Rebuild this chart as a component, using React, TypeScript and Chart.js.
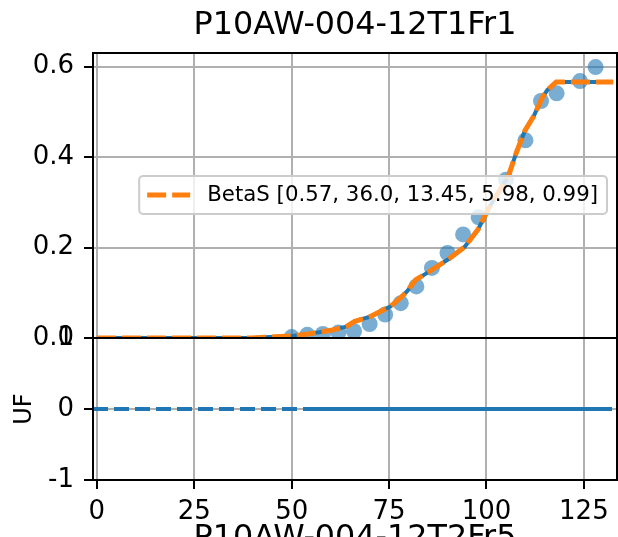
import React, { useEffect, useRef } from "react";
import { Chart, registerables } from "chart.js";

Chart.register(...registerables);

const TITLE = "P10AW-004-12T1Fr1";
const X_LABEL = "P10AW-004-12T2Fr5";
const Y_BOTTOM_LABEL = "UF";
const LEGEND_LABEL = "BetaS [0.57, 36.0, 13.45, 5.98, 0.99]";

// observed points (top panel)
const OBS_X = [50, 54, 58, 62, 66, 70, 74, 78, 82, 86, 90, 94, 98, 105, 110, 114, 118, 124, 128];
const OBS_Y = [0.002, 0.007, 0.009, 0.012, 0.015, 0.031, 0.052, 0.077, 0.114, 0.155, 0.188, 0.229, 0.267, 0.35, 0.437, 0.524, 0.541, 0.568, 0.599];

// fitted curve (top panel)
const FIT_X = [0, 40, 43.2, 50.1, 55.3, 60.5, 64, 66.2, 70.1, 73.5, 75.3, 77.9, 79.6, 81.8, 85.7, 90, 94.3, 97.8, 100.4, 105.6, 107.8, 109.9, 112.1, 114.3, 115.6, 117.9, 132.5];
const FIT_Y = [0, 0, 0.0015, 0.0044, 0.0103, 0.0177, 0.0251, 0.0369, 0.0472, 0.0619, 0.0693, 0.0885, 0.1032, 0.1283, 0.149, 0.173, 0.2006, 0.2397, 0.284, 0.358, 0.413, 0.459, 0.49, 0.531, 0.548, 0.566, 0.566];

// bottom panel lines
const UF_REF_X = [-1, 133.5];
const UF_REF_Y = [0, 0];
const UF_X = [53.6, 128.5];
const UF_Y = [0, 0];

const X_TICKS = [0, 25, 50, 75, 100, 125];
const Y_TOP_TICKS = [0, 0.2, 0.4, 0.6];
const Y_BOTTOM_TICKS = [-1, 0, 1];
const X_MIN = -1;
const X_MAX = 133.5;
const Y_TOP_MIN = 0;
const Y_TOP_MAX = 0.63;
const Y_BOTTOM_MIN = -1;
const Y_BOTTOM_MAX = 1;

const FONT = "'DejaVu Sans', sans-serif";
const C0 = "#1f77b4";
const C1 = "#ff7f0e";
const GRID = "#b0b0b0";

const pts = (xs: number[], ys: number[]) => xs.map((x, i) => ({ x, y: ys[i] }));

// stretch the plot area to 1px from the right edge of the canvas
const rightEdge = {
  id: "rightEdge",
  afterLayout(chart: any) {
    const target = chart.width - 1;
    const delta = target - chart.chartArea.right;
    if (Math.abs(delta) < 0.01) return;
    chart.chartArea.right = target;
    chart.chartArea.width = chart.chartArea.right - chart.chartArea.left;
    const x = chart.scales.x;
    x.right = target;
    x.width = x.right - x.left;
    x.configure();
    const t = chart.titleBlock;
    if (t) {
      t.right = target;
      t.width = t.right - t.left;
    }
  },
};

const panelClip = {
  id: "panelClip",
  beforeDatasetDraw(chart: any, args: any) {
    const ys = chart.scales[args.meta.yAxisID];
    const { left, right } = chart.chartArea;
    const ctx = chart.ctx;
    ctx.save();
    ctx.beginPath();
    ctx.rect(left, ys.top, right - left, ys.bottom - ys.top);
    ctx.clip();
  },
  afterDatasetDraw(chart: any) {
    chart.ctx.restore();
  },
};

const spines = {
  id: "spines",
  afterDatasetsDraw(chart: any) {
    const ctx = chart.ctx;
    const { left, right } = chart.chartArea;
    ctx.save();
    ctx.strokeStyle = "#000";
    ctx.lineWidth = 2;
    ["yTop", "yBot"].forEach((id) => {
      const s = chart.scales[id];
      ctx.strokeRect(Math.round(left), Math.round(s.top), Math.round(right - left), Math.round(s.bottom - s.top));
    });
    ctx.restore();
  },
};

const boxLegend = {
  id: "boxLegend",
  afterDraw(chart: any) {
    const ctx = chart.ctx;
    const s = chart.scales.yTop;
    const right = chart.chartArea.right - 10;
    const fs = 21.3;
    ctx.save();
    ctx.font = `${fs}px ${FONT}`;
    const tw = ctx.measureText(LEGEND_LABEL).width;
    const w = 8 + 43 + 17 + tw + 9;
    const h = 38;
    const x0 = right - w;
    const cy = (s.top + s.bottom) / 2 - 0.5;
    const y0 = cy - h / 2;
    ctx.beginPath();
    ctx.roundRect(x0, y0, w, h, 4);
    ctx.fillStyle = "rgba(255,255,255,0.8)";
    ctx.fill();
    ctx.strokeStyle = "#cccccc";
    ctx.lineWidth = 2;
    ctx.stroke();
    ctx.beginPath();
    ctx.setLineDash([19, 6]);
    ctx.strokeStyle = C1;
    ctx.lineWidth = 5;
    ctx.moveTo(x0 + 8, cy);
    ctx.lineTo(x0 + 51, cy);
    ctx.stroke();
    ctx.setLineDash([]);
    ctx.fillStyle = "#000";
    ctx.textBaseline = "middle";
    ctx.textAlign = "left";
    ctx.fillText(LEGEND_LABEL, x0 + 68, cy);
    ctx.restore();
  },
};

export default function App() {
  const ref = useRef<HTMLCanvasElement | null>(null);

  useEffect(() => {
    if (!ref.current) return;
    const tickFont = { family: FONT, size: 26 };
    const chart = new Chart(ref.current, {
      type: "line",
      data: {
        datasets: [
          {
            label: LEGEND_LABEL,
            data: pts(FIT_X, FIT_Y),
            borderColor: C1,
            borderWidth: 5,
            borderDash: [19, 6],
            pointRadius: 0,
            tension: 0,
            fill: false,
            xAxisID: "x",
            yAxisID: "yTop",
            order: 0,
          } as any,
          {
            label: "fit",
            data: pts(FIT_X, FIT_Y),
            borderColor: C0,
            borderWidth: 4,
            pointRadius: 0,
            tension: 0,
            fill: false,
            xAxisID: "x",
            yAxisID: "yTop",
            order: 1,
          },
          {
            type: "scatter",
            label: "observed",
            data: pts(OBS_X, OBS_Y),
            showLine: false,
            pointRadius: 8,
            pointBorderWidth: 0,
            pointBackgroundColor: "rgba(31,119,180,0.6)",
            backgroundColor: "rgba(31,119,180,0.6)",
            xAxisID: "x",
            yAxisID: "yTop",
            order: 2,
          } as any,
          {
            label: "UF ref",
            data: pts(UF_REF_X, UF_REF_Y),
            borderColor: C0,
            borderWidth: 4,
            borderDash: [15, 6],
            pointRadius: 0,
            xAxisID: "x",
            yAxisID: "yBot",
            order: 3,
          },
          {
            label: "UF",
            data: pts(UF_X, UF_Y),
            borderColor: C0,
            borderWidth: 4,
            pointRadius: 0,
            xAxisID: "x",
            yAxisID: "yBot",
            order: 3,
          },
        ],
      },
      options: {
        animation: false,
        responsive: true,
        maintainAspectRatio: false,
        events: [],
        layout: { padding: { left: 0, right: 1, top: 0, bottom: 0 } },
        plugins: {
          legend: { display: false },
          tooltip: { enabled: false },
          title: {
            display: true,
            text: TITLE,
            fullSize: false,
            color: "#000",
            font: { family: FONT, size: 31.8, weight: "normal" as any, lineHeight: 1.2 },
            padding: { top: 6.5, bottom: 8.4 },
          },
        },
        scales: {
          x: {
            type: "linear",
            min: X_MIN,
            max: X_MAX,
            afterBuildTicks: (s: any) => {
              s.ticks = X_TICKS.map((v) => ({ value: v }));
            },
            afterFit: (s: any) => {
              s.height = 57;
              s.paddingLeft = 0;
              s.paddingRight = 0;
            },
            grid: { color: GRID, lineWidth: 2, tickColor: "#000", tickLength: 9, tickWidth: 2 },
            border: { color: "#000", width: 2 },
            ticks: {
              color: "#000",
              font: tickFont,
              padding: 8,
              maxRotation: 0,
              autoSkip: false,
              callback: (v: any) => String(v),
            },
            title: {
              display: true,
              text: X_LABEL,
              color: "#000",
              font: { family: FONT, size: 31.8, lineHeight: 1.2 },
              padding: { top: 0, bottom: -21 },
            },
          },
          yTop: {
            type: "linear",
            position: "left",
            stack: "panels",
            stackWeight: 285,
            weight: 2,
            min: Y_TOP_MIN,
            max: Y_TOP_MAX,
            afterBuildTicks: (s: any) => {
              s.ticks = Y_TOP_TICKS.map((v) => ({ value: v }));
            },
            afterFit: (s: any) => {
              s.width = 93;
              s.paddingTop = 0;
              s.paddingBottom = 0;
            },
            grid: { color: GRID, lineWidth: 2, tickColor: "#000", tickLength: 9, tickWidth: 2 },
            border: { color: "#000", width: 2 },
            ticks: {
              color: "#000",
              font: tickFont,
              padding: 10,
              autoSkip: false,
              callback: (v: any) => Number(v).toFixed(1),
            },
          },
          yBot: {
            type: "linear",
            position: "left",
            stack: "panels",
            stackWeight: 142,
            weight: 1,
            min: Y_BOTTOM_MIN,
            max: Y_BOTTOM_MAX,
            afterBuildTicks: (s: any) => {
              s.ticks = Y_BOTTOM_TICKS.map((v) => ({ value: v }));
            },
            afterFit: (s: any) => {
              s.width = 93;
              s.paddingTop = 0;
              s.paddingBottom = 0;
            },
            grid: { color: GRID, lineWidth: 2, tickColor: "#000", tickLength: 9, tickWidth: 2 },
            border: { color: "#000", width: 2 },
            ticks: {
              color: "#000",
              font: tickFont,
              padding: 10,
              autoSkip: false,
              callback: (v: any) => String(v),
            },
            title: {
              display: true,
              text: Y_BOTTOM_LABEL,
              color: "#000",
              font: { family: FONT, size: 24, lineHeight: 1.2 },
              padding: { top: 10, bottom: 0 },
            },
          },
        },
      } as any,
      plugins: [rightEdge, panelClip, spines, boxLegend],
    });
    return () => chart.destroy();
  }, []);

  return (
    <div style={{ position: "absolute", left: 0, top: 0, width: 618, height: 537, background: "#fff" }}>
      <canvas ref={ref} />
    </div>
  );
}
